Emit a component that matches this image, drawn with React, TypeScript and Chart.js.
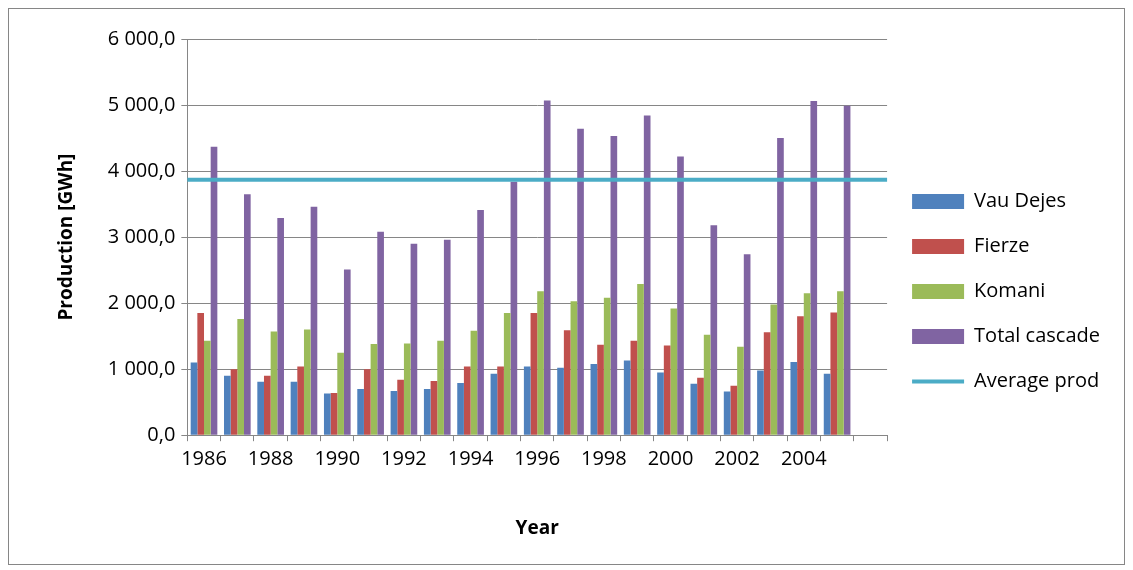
import { useEffect, useRef } from "react";
import { Chart, registerables } from "chart.js";

Chart.register(...registerables);

const years = ["1986","1987","1988","1989","1990","1991","1992","1993","1994","1995","1996","1997","1998","1999","2000","2001","2002","2003","2004","2005",""];
const vauDejes = [1100,900,810,810,630,700,670,700,790,930,1040,1020,1080,1130,950,780,660,980,1110,930,null];
const fierze = [1850,1000,900,1040,640,1000,840,820,1040,1040,1850,1590,1370,1430,1360,870,750,1560,1800,1860,null];
const komani = [1430,1760,1570,1600,1250,1380,1390,1430,1580,1850,2180,2030,2080,2290,1920,1520,1340,1980,2150,2180,null];
const totalCascade = [4370,3650,3290,3460,2510,3080,2900,2960,3410,3840,5070,4640,4530,4840,4220,3180,2740,4500,5060,4990,null];
const averageProd = 3868;

const fmt = (v: number) => {
  const s = Math.round(v).toString().replace(/\B(?=(\d{3})+(?!\d))/g, " ");
  return s + ",0";
};

// the average line in Excel runs across the whole plot area
const fullWidthLine = {
  id: "fullWidthLine",
  afterDatasetsDraw(chart: Chart) {
    const ds: any = chart.data.datasets.find((d: any) => d.type === "line");
    if (!ds) return;
    const v = ds.data.find((d: any) => d != null);
    const y = chart.scales.y.getPixelForValue(v);
    const { left, right } = chart.chartArea;
    const ctx = chart.ctx;
    ctx.save();
    ctx.strokeStyle = ds.borderColor;
    ctx.lineWidth = 4;
    ctx.beginPath();
    ctx.moveTo(left, y);
    ctx.lineTo(right, y);
    ctx.stroke();
    ctx.restore();
  },
};

export default function App() {
  const chartRef = useRef<HTMLCanvasElement>(null);
  const chartInstance = useRef<Chart | null>(null);

  useEffect(() => {
    if (!chartRef.current) return;
    if (chartInstance.current) chartInstance.current.destroy();
    const ctx = chartRef.current.getContext("2d");
    if (!ctx) return;

    const font = { family: "Open Sans", size: 20 };
    const bar = (label: string, data: (number | null)[], color: string) => ({
      type: "bar" as const,
      label,
      data,
      backgroundColor: color,
      borderWidth: 0,
      barPercentage: 1,
      categoryPercentage: 0.8,
    });

    chartInstance.current = new Chart(ctx, {
      type: "bar",
      data: {
        labels: years,
        datasets: [
          bar("Vau Dejes", vauDejes, "#4F81BD"),
          bar("Fierze", fierze, "#C0504D"),
          bar("Komani", komani, "#9BBB59"),
          bar("Total cascade", totalCascade, "#8064A2"),
          {
            type: "line" as const,
            label: "Average prod",
            data: years.map(() => averageProd),
            borderColor: "#4BACC6",
            backgroundColor: "#4BACC6",
            borderWidth: 0,
            showLine: false,
            pointRadius: 0,
          },
        ],
      },
      options: {
        animation: false,
        responsive: true,
        maintainAspectRatio: false,
        layout: { padding: { left: 42, top: 30, right: 14, bottom: 20 } },
        scales: {
          x: {
            grid: { display: true, drawOnChartArea: false, tickLength: 6, color: "#868686" },
            border: { color: "#868686" },
            ticks: {
              autoSkip: false,
              maxRotation: 0,
              color: "#000",
              font,
              padding: 6,
              callback: (_v: any, i: number) => (i % 2 === 0 ? years[i] : ""),
            },
            title: { display: true, text: "Year", color: "#000", font: { ...font, size: 19, weight: "bold" }, padding: { top: 40 } },
          },
          y: {
            min: 0,
            max: 6000,
            ticks: { stepSize: 1000, color: "#000", font, padding: 6, callback: (v: any) => fmt(Number(v)) },
            grid: { color: "#868686", tickLength: 6 },
            border: { color: "#868686" },
            title: { display: true, text: "Production [GWh]", color: "#000", font: { ...font, size: 19, weight: "bold" }, padding: { bottom: 24 } },
          },
        },
        plugins: {
          tooltip: { enabled: false },
          legend: {
            position: "right",
            labels: {
              color: "#000",
              font: { family: "Open Sans", size: 20 },
              usePointStyle: true,
              boxWidth: 10,
              boxHeight: 15,
              pointStyleWidth: 52,
              padding: 25,
              generateLabels: (chart: Chart) =>
                chart.data.datasets.map((ds: any, i: number) => ({
                  text: ds.label,
                  pointStyle: ds.type === "line" ? "line" : "rect",
                  fillStyle: ds.backgroundColor,
                  strokeStyle: ds.type === "line" ? ds.borderColor : ds.backgroundColor,
                  lineWidth: ds.type === "line" ? 4 : 0,
                  datasetIndex: i,
                  hidden: false,
                  fontColor: "#000",
                })),
            },
          },
        },
      },
      plugins: [fullWidthLine],
    });

    return () => {
      if (chartInstance.current) chartInstance.current.destroy();
    };
  }, []);

  return (
    <div style={{ width: 1115, height: 555, border: "1px solid #868686", position: "relative" }}>
      <canvas ref={chartRef} />
    </div>
  );
}
